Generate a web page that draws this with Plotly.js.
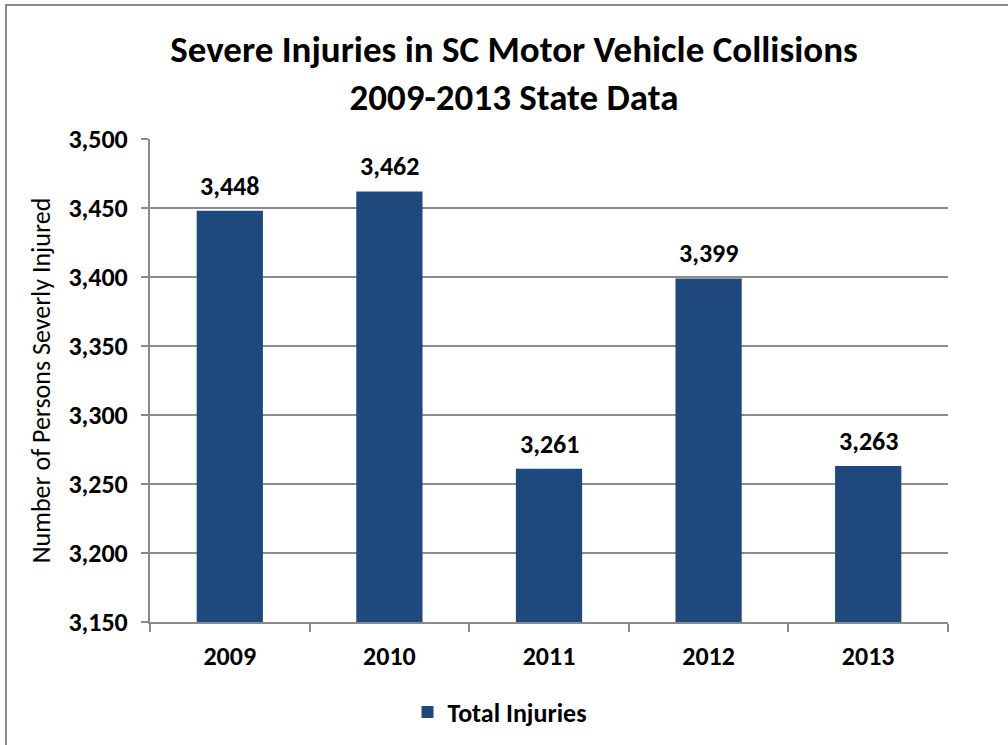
<!DOCTYPE html>
<html>
<head>
<meta charset="utf-8">
<script src="https://cdn.plot.ly/plotly-3.0.1.min.js"></script>
<style>
  html, body { margin: 0; padding: 0; overflow: hidden; background: #fff; }
  #chart { width: 1008px; height: 745px; }
  #frame { position: absolute; left: 5px; top: 4px; width: 1020px; height: 760px;
           border-left: 2px solid #8a8a8a; border-top: 2px solid #8a8a8a; pointer-events: none; }
</style>
</head>
<body>
<div id="chart"></div>
<div id="frame"></div>
<script>
const years = ["2009", "2010", "2011", "2012", "2013"];
const totalInjuries = [3448, 3462, 3261, 3399, 3263];
const seriesName = "Total Injuries";
const titleLine1 = "Severe Injuries in SC Motor Vehicle Collisions";
const titleLine2 = "2009-2013 State Data";
const yTitle = "Number of Persons Severly Injured";

const FONT = "Carlito, Lato, 'Liberation Sans', sans-serif";

const trace = {
  type: "bar",
  x: years,
  y: totalInjuries,
  name: seriesName,
  marker: { color: "#1F497D" },
  hoverinfo: "x+y",
  showlegend: true
};

const labelAnnotations = years.map((yr, i) => ({
  x: i,
  y: totalInjuries[i],
  xref: "x", yref: "y",
  text: "<b>" + totalInjuries[i].toLocaleString("en-US") + "</b>",
  showarrow: false,
  yanchor: "middle",
  yshift: 25,
  font: { family: FONT, size: 26, color: "#000" }
}));

const layout = {
  width: 1008,
  height: 745,
  margin: { l: 150, r: 60, t: 139, b: 123 },
  paper_bgcolor: "#fff",
  plot_bgcolor: "#fff",
  font: { family: FONT, color: "#000" },
  title: {
    text: "<b>" + titleLine1 + "<br>" + titleLine2 + "</b>",
    font: { family: FONT, size: 37, color: "#000" },
    x: 514 / 1008, xref: "container", xanchor: "center",
    y: 1 - 62 / 745, yref: "container", yanchor: "middle"
  },
  annotations: labelAnnotations,
  bargap: 0.585,
  xaxis: {
    type: "category",
    categoryorder: "array",
    categoryarray: years,
    range: [-0.5, years.length - 0.5],
    tickson: "boundaries",
    ticks: "outside",
    ticklen: 8,
    tickcolor: "#8a8a8a",
    tickwidth: 2,
    showline: true,
    linecolor: "#8a8a8a",
    linewidth: 2,
    showgrid: false,
    tickfont: { family: FONT, size: 26, color: "#000", weight: "bold" },
    ticklabelstandoff: 10
  },
  yaxis: {
    range: [3150, 3500],
    dtick: 50,
    tick0: 3150,
    tickformat: ",",
    ticks: "outside",
    ticklen: 7,
    tickcolor: "#8a8a8a",
    tickwidth: 2,
    showline: true,
    linecolor: "#8a8a8a",
    linewidth: 2,
    showgrid: true,
    gridcolor: "#8c8c8c",
    gridwidth: 2,
    zeroline: false,
    tickfont: { family: FONT, size: 26, color: "#000", weight: "bold" },
    ticklabelstandoff: 8,
    title: {
      text: yTitle,
      font: { family: FONT, size: 26, color: "#000" },
      standoff: 10
    }
  },
  legend: {
    orientation: "h",
    x: 500 / 1008, xanchor: "center",
    xref: "container",
    y: 1 - 712 / 745, yref: "container", yanchor: "middle",
    font: { family: FONT, size: 26, color: "#000", weight: "bold" }
  }
};

Plotly.newPlot("chart", [trace], layout, { displayModeBar: false, staticPlot: true });
</script>
</body>
</html>
